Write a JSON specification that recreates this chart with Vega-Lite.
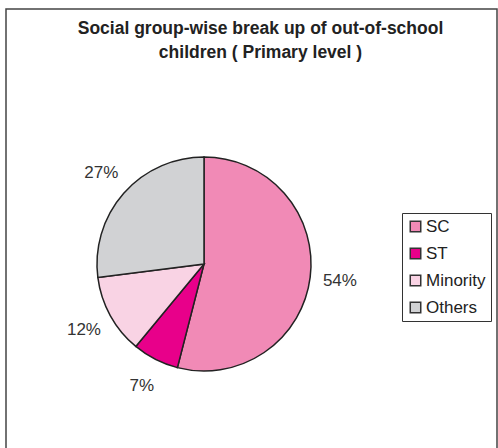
{
  "$schema": "https://vega.github.io/schema/vega-lite/v6.json",
  "autosize": "none",
  "width": 491,
  "height": 450,
  "padding": {"left": 6, "top": 9, "right": 1, "bottom": 0},
  "background": "white",
  "view": {"stroke": "#444", "strokeWidth": 1.5, "fill": null},
  "config": {
    "view": {"stroke": "#444", "strokeWidth": 1.5},
    "font": "Liberation Sans"
  },
  "title": {
    "text": ["Social group-wise break up of out-of-school", "children ( Primary level )"],
    "font": "Liberation Sans",
    "fontSize": 17.5,
    "fontWeight": "bold",
    "color": "#222",
    "lineHeight": 24,
    "anchor": "middle",
    "frame": "group",
    "baseline": "top",
    "offset": -52,
    "dx": 9
  },
  "data": {
    "values": [
      {"group": "SC", "share": 0.54, "seq": 1},
      {"group": "ST", "share": 0.07, "seq": 2},
      {"group": "Minority", "share": 0.12, "seq": 3},
      {"group": "Others", "share": 0.27, "seq": 4}
    ]
  },
  "encoding": {
    "theta": {"field": "share", "type": "quantitative", "stack": true},
    "order": {"field": "seq", "type": "quantitative", "sort": "ascending"},
    "color": {
      "field": "group",
      "type": "nominal",
      "sort": ["SC", "ST", "Minority", "Others"],
      "scale": {
        "domain": ["SC", "ST", "Minority", "Others"],
        "range": ["#f18ab6", "#e8008a", "#f9d3e4", "#d1d2d4"]
      },
      "legend": {
        "title": null,
        "orient": "none",
        "legendX": 396,
        "legendY": 204,
        "direction": "vertical",
        "symbolType": "square",
        "symbolSize": 110,
        "symbolStrokeColor": "#333",
        "symbolStrokeWidth": 1.5,
        "symbolOpacity": 1,
        "labelFont": "Liberation Sans",
        "labelFontSize": 17,
        "labelColor": "#222",
        "labelOffset": 2,
        "rowPadding": 9,
        "padding": 5,
        "strokeColor": "#333",
        "fillColor": "white"
      }
    }
  },
  "layer": [
    {
      "mark": {"type": "arc", "outerRadius": 107, "stroke": "#222", "strokeWidth": 1.5, "x": 198, "y": 255}
    },
    {
      "mark": {"type": "text", "radius": 137, "fontSize": 17, "font": "Liberation Sans", "x": 198, "y": 255, "align": "center", "baseline": "middle"},
      "encoding": {
        "text": {"field": "share", "type": "quantitative", "format": ".0%"},
        "color": {"value": "#333"}
      }
    }
  ]
}
